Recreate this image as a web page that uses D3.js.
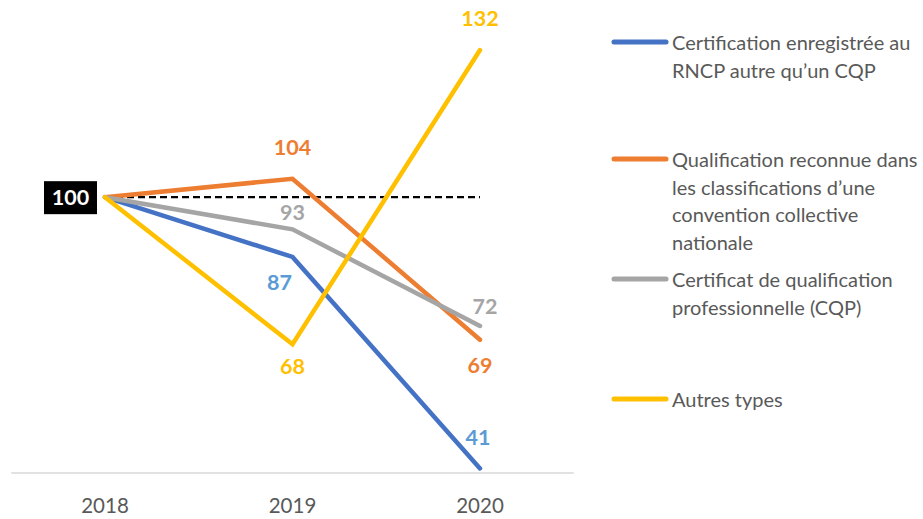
<!DOCTYPE html>
<html>
<head>
<meta charset="utf-8">
<script src="https://cdn.jsdelivr.net/npm/d3@7"></script>
<style>
  html, body { margin: 0; padding: 0; background: #fff; }
  svg { display: block; font-family: Lato, "Open Sans", sans-serif; }
</style>
</head>
<body>
<svg id="chart" width="923" height="519"></svg>
<script>
// Index base 100 in 2018, by type of certification
const years = ["2018", "2019", "2020"];
const seriesNames = [
  "Certification enregistrée au RNCP autre qu’un CQP",
  "Qualification reconnue dans les classifications d’une convention collective nationale",
  "Certificat de qualification professionnelle (CQP)",
  "Autres types"
];
const rncpValues = [100, 87, 41];
const conventionValues = [100, 104, 69];
const cqpValues = [100, 93, 72];
const autresValues = [100, 68, 132];
const baseValue = 100;
const yDomain = [40, 140];

// Legend text, wrapped as displayed
const legendLines = [
  ["Certification enregistrée au", "RNCP autre qu’un CQP"],
  ["Qualification reconnue dans", "les classifications d’une", "convention collective", "nationale"],
  ["Certificat de qualification", "professionnelle (CQP)"],
  ["Autres types"]
];

const lineColors = ["#4472C4", "#ED7D31", "#A5A5A5", "#FFC000"];
const labelColors = ["#5B9BD5", "#ED7D31", "#A5A5A5", "#FFC000"];

// Label offsets (dx, dy) from each point, per series, for 2019 and 2020
const labelOffsets = [
  [[-13, 25], [-2, -31]],
  [[0, -32], [0, 25]],
  [[0, -17], [5, -20]],
  [[0, 22], [0, -32]]
];

const allValues = [rncpValues, conventionValues, cqpValues, autresValues];

const svg = d3.select("#chart");

const x = d3.scalePoint().domain(years).range([105, 480]);
const band = x.step();
const y = d3.scaleLinear().domain(yDomain).range([473, 13.3]);

// Horizontal category axis
const axisLeft = x(years[0]) - band / 2;
const axisRight = x(years[years.length - 1]) + band / 2;
svg.append("line")
  .attr("x1", axisLeft).attr("x2", axisRight)
  .attr("y1", y(yDomain[0])).attr("y2", y(yDomain[0]))
  .attr("stroke", "#D9D9D9").attr("stroke-width", 1.5);

svg.append("g").selectAll("text")
  .data(years).join("text")
  .attr("x", d => x(d))
  .attr("y", 505)
  .attr("text-anchor", "middle")
  .attr("dominant-baseline", "central")
  .attr("fill", "#595959")
  .attr("font-size", 20.5)
  .text(d => d);

// Dashed reference at the base value
svg.append("line")
  .attr("x1", x(years[0])).attr("x2", x(years[years.length - 1]))
  .attr("y1", y(baseValue)).attr("y2", y(baseValue))
  .attr("stroke", "#000").attr("stroke-width", 2.2)
  .attr("stroke-dasharray", "7,4");

// Series lines
const line = d3.line().x((d, i) => x(years[i])).y(d => y(d));
svg.append("g").selectAll("path")
  .data(allValues).join("path")
  .attr("d", d => line(d))
  .attr("fill", "none")
  .attr("stroke", (d, i) => lineColors[i])
  .attr("stroke-width", 4.5)
  .attr("stroke-linejoin", "miter")
  .attr("stroke-linecap", "round");

// Value labels for 2019 and 2020
allValues.forEach((vals, s) => {
  vals.slice(1).forEach((v, j) => {
    const i = j + 1;
    const off = labelOffsets[s][j];
    svg.append("text")
      .attr("x", x(years[i]) + off[0])
      .attr("y", y(v) + off[1])
      .attr("text-anchor", "middle")
      .attr("dominant-baseline", "central")
      .attr("fill", labelColors[s])
      .attr("font-size", 21.5)
      .attr("font-weight", "bold")
      .text(v);
  });
});

// Base value badge
const badge = svg.append("g");
badge.append("rect")
  .attr("x", 44).attr("y", y(baseValue) - 16)
  .attr("width", 53).attr("height", 33)
  .attr("fill", "#000");
badge.append("text")
  .attr("x", 70.5).attr("y", y(baseValue))
  .attr("text-anchor", "middle")
  .attr("dominant-baseline", "central")
  .attr("fill", "#fff")
  .attr("font-size", 21.5)
  .attr("font-weight", "bold")
  .text(baseValue);

// Legend
const legendY = [42, 159, 279, 399];
const lineH = 27.5;
const legend = svg.append("g");
legendLines.forEach((lines, i) => {
  const g = legend.append("g");
  g.append("line")
    .attr("x1", 614).attr("x2", 666)
    .attr("y1", legendY[i]).attr("y2", legendY[i])
    .attr("stroke", lineColors[i]).attr("stroke-width", 5)
    .attr("stroke-linecap", "round");
  g.append("title").text(seriesNames[i]);
  lines.forEach((t, k) => {
    g.append("text")
      .attr("x", 672)
      .attr("y", legendY[i] + k * lineH)
      .attr("dominant-baseline", "central")
      .attr("fill", "#595959")
      .attr("font-size", 20)
      .text(t);
  });
});
</script>
</body>
</html>
